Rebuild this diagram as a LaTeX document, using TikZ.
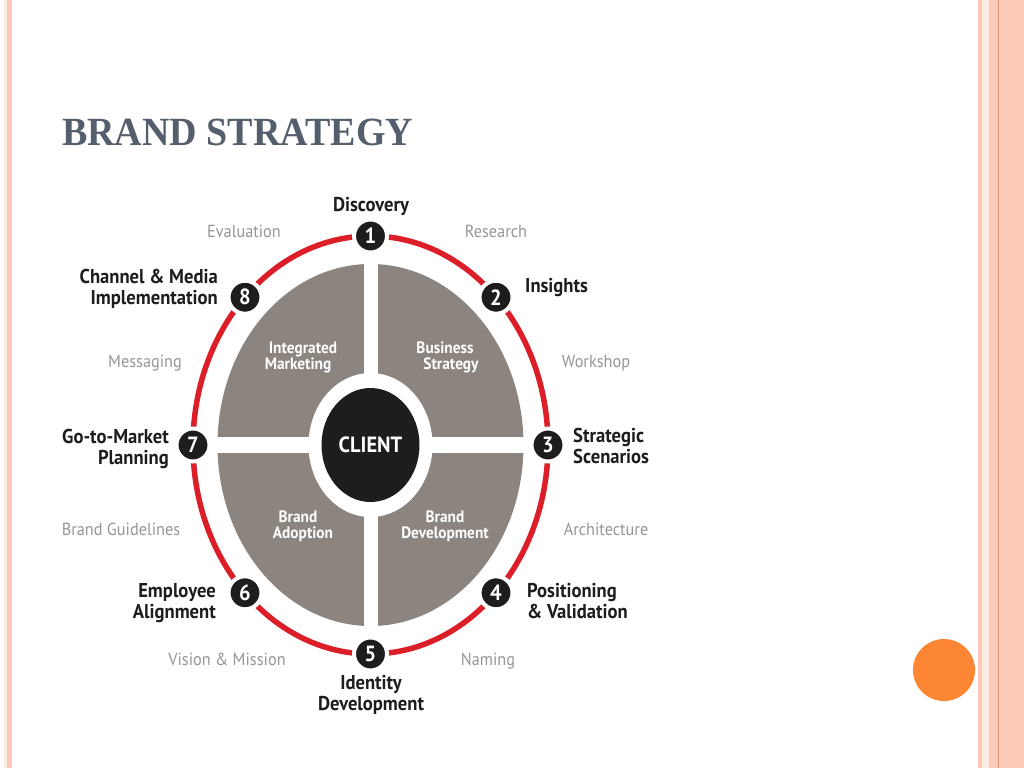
\documentclass[tikz,border=0pt]{standalone}
\usepackage{fontspec}
\setmainfont{PT Sans}
\newfontfamily\titlefont{Liberation Serif}[FakeStretch=0.95]
\newfontfamily\dinfont{PT Sans}[FakeStretch=0.93]
\usetikzlibrary{positioning,shapes.geometric}

\definecolor{ringred}{RGB}{220,30,40}
\definecolor{quadgray}{RGB}{139,132,127}
\definecolor{nearblack}{RGB}{30,28,28}
\definecolor{taskgray}{RGB}{150,150,150}
\definecolor{titleslate}{RGB}{84,94,108}
\definecolor{peach}{RGB}{252,202,184}
\definecolor{cream}{RGB}{253,236,226}
\definecolor{peachline}{RGB}{214,150,120}
\definecolor{dotorange}{RGB}{252,134,52}

\begin{document}
\begin{tikzpicture}[x=1pt,y=-1pt,
    stepnum/.style={circle,fill=nearblack,draw=white,line width=4pt,minimum size=33pt,inner sep=0pt,
      text=white,font=\dinfont\fontsize{22}{22}\selectfont\bfseries},
    phase/.style={inner sep=0pt,text=nearblack,align=#1,font=\dinfont\fontsize{20}{21}\selectfont\bfseries},
    phase/.default=center,
    task/.style={inner sep=0pt,text=taskgray,font=\dinfont\fontsize{17.5}{20}\selectfont},
    quad/.style={inner sep=0pt,text=white,align=center,font=\dinfont\fontsize{16.5}{16}\selectfont\bfseries}]

  % page and frame
  \useasboundingbox (0,0) rectangle (1024,768);
  \fill[white] (0,0) rectangle (1024,768);
  \fill[cream] (4,0) rectangle (7,768);
  \fill[peach] (7,0) rectangle (12,768);
  \fill[peach] (978,0) rectangle (982,768);
  \fill[cream] (982,0) rectangle (989,768);
  \fill[peach] (989,0) rectangle (1024,768);
  \draw[peachline,line width=0.8pt] (998.5,0) -- (998.5,768);
  \fill[dotorange] (944,670) circle (31);

  \node[inner sep=0pt,anchor=base west,text=titleslate,font=\titlefont\fontsize{40}{40}\selectfont\bfseries]
    (title) at (62,145) {BRAND STRATEGY};

  % gray quadrants and client
  \fill[quadgray] (370.5,445) ellipse (153 and 181);
  \fill[white] (370.5,445) ellipse (62 and 72);
  \fill[white] (363.5,260) rectangle (377.5,630);
  \fill[white] (210,437) rectangle (530,453);
  \node[ellipse,fill=nearblack,minimum width=98pt,minimum height=114pt,inner sep=0pt,
    text=white,font=\dinfont\fontsize{22}{22}\selectfont\bfseries] (client) at (370.5,445) {CLIENT};

  \node[quad,anchor=base] (integrated) at (298,369) {\hspace*{10pt}Integrated\\Marketing};
  \node[quad,anchor=base] (business) at (445,369) {Business\\\hspace*{12pt}Strategy};
  \node[quad,anchor=base] (adoption) at (298,538) {Brand\\\hspace*{10pt}Adoption};
  \node[quad,anchor=base] (development) at (445,538) {Brand\\Development};

  % red ring with the steps
  \draw[ringred,line width=5.5pt] (370.5,445) ellipse (177.5 and 209);
  \foreach \n [evaluate=\n as \a using 90-45*(\n-1)] in {1,...,8}
    \node[stepnum] (s\n) at ({370.5+177.5*cos(\a)},{445-209*sin(\a)}) {\n};

  % phases
  \node[phase,anchor=base] (discovery) at (371,211) {Discovery};
  \node[phase,anchor=base west] (insights) at (525,292) {Insights};
  \node[phase=left,anchor=base west] (strategic) at (573,463) {Strategic\\Scenarios};
  \node[phase=left,anchor=base west] (positioning) at (527,618) {Positioning\\\& Validation};
  \node[phase,anchor=base] (identity) at (371,710) {Identity\\Development};
  \node[phase=right,anchor=base east] (employee) at (216,618) {Employee\\Alignment};
  \node[phase=right,anchor=base east] (gotomarket) at (169,464) {Go-to-Market\\Planning};
  \node[phase=right,anchor=base east] (channel) at (218,304) {Channel \& Media\\Implementation};

  % tasks between the steps
  \node[task,anchor=base] (research) at (496,237) {Research};
  \node[task,anchor=base] (workshop) at (596,367) {Workshop};
  \node[task,anchor=base] (architecture) at (606,535) {Architecture};
  \node[task,anchor=base] (naming) at (488,665) {Naming};
  \node[task,anchor=base] (vision) at (227,665) {Vision \& Mission};
  \node[task,anchor=base] (guidelines) at (121,535) {Brand Guidelines};
  \node[task,anchor=base] (messaging) at (145,367) {Messaging};
  \node[task,anchor=base] (evaluation) at (244,237) {Evaluation};
\end{tikzpicture}
\end{document}
